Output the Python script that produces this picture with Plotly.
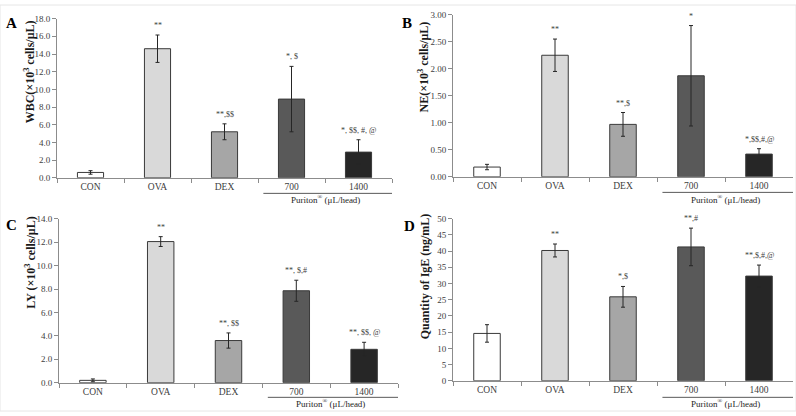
import plotly.graph_objects as go

categories = ["CON", "OVA", "DEX", "700", "1400"]
bar_colors = ["#ffffff", "#d9d9d9", "#a6a6a6", "#595959", "#262626"]

wbc_mean = [0.6, 14.6, 5.2, 8.9, 2.9]
wbc_err = [0.2, 1.55, 0.9, 3.7, 1.4]
wbc_sig = ["", "**", "**,$$", "*, $", "*, $$, #, @"]

ne_mean = [0.18, 2.25, 0.97, 1.87, 0.42]
ne_err = [0.05, 0.30, 0.22, 0.93, 0.10]
ne_sig = ["", "**", "**,$", "*", "*,$$,#,@"]

ly_mean = [0.2, 12.05, 3.6, 7.85, 2.85]
ly_err = [0.12, 0.42, 0.65, 0.9, 0.6]
ly_sig = ["", "**", "**, $$", "**, $,#", "**, $$, @"]

ige_mean = [14.6, 40.2, 25.9, 41.3, 32.3]
ige_err = [2.7, 2.0, 3.2, 5.8, 3.4]
ige_sig = ["", "**", "*,$", "**,#", "**,$,#,@"]

W, H = 796, 416
FONT = "Times New Roman, Liberation Serif, serif"

panels = [
    dict(mean=wbc_mean, err=wbc_err, sig=wbc_sig, letter="A",
         title="WBC(×10<sup>3</sup> cells/μL)", rng=[0, 18], dtick=2, fmt=".1f",
         px=(57, 392), py=(14, 177), title_xy=(29, 69), letter_xy=(4, 18), line_y=193, text_y=199),
    dict(mean=ne_mean, err=ne_err, sig=ne_sig, letter="B",
         title="NE(×10<sup>3</sup> cells/μL)", rng=[0, 3], dtick=0.5, fmt=".2f",
         px=(453, 793), py=(10, 176), title_xy=(423, 64), letter_xy=(400, 18), line_y=192, text_y=199),
    dict(mean=ly_mean, err=ly_err, sig=ly_sig, letter="C",
         title="LY (×10<sup>3</sup> cells/μL)", rng=[0, 14], dtick=2, fmt=".1f",
         px=(59, 398), py=(219, 387), title_xy=(31, 264), letter_xy=(4, 225), line_y=402, text_y=408),
    dict(mean=ige_mean, err=ige_err, sig=ige_sig, letter="D",
         title="Quantity of IgE (ng/mL)", rng=[0, 50], dtick=5, fmt="d",
         px=(453, 793), py=(219, 385), title_xy=(425, 278), letter_xy=(402, 226), line_y=402, text_y=408),
]

fig = go.Figure()
layout = dict(width=W, height=H, margin=dict(l=0, r=0, t=0, b=0),
              paper_bgcolor="white", plot_bgcolor="white", showlegend=False,
              font=dict(family=FONT, color="#404040"))
annotations = []
shapes = [dict(type="rect", xref="paper", yref="paper", x0=0, x1=1, y0=0, y1=1,
               line=dict(color="#e6e6e6", width=1))]

for i, p in enumerate(panels):
    n = "" if i == 0 else str(i + 1)
    xa, ya = "x" + n, "y" + n
    fig.add_trace(go.Bar(
        x=categories, y=p["mean"], xaxis=xa, yaxis=ya, width=0.39,
        marker=dict(color=bar_colors, line=dict(color="#3a3a3a", width=1)),
        error_y=dict(type="data", array=p["err"], visible=True, color="#262626",
                     thickness=1, width=2),
    ))
    xd = [p["px"][0] / W, p["px"][1] / W]
    yd = [1 - p["py"][1] / H, 1 - p["py"][0] / H]
    layout["xaxis" + n] = dict(domain=xd, anchor=ya, range=[-0.5, 4.5], type="category",
                               showline=True, linecolor="#8c8c8c", linewidth=1,
                               ticks="outside", tickson="boundaries", ticklen=4,
                               tickcolor="#8c8c8c", showgrid=False,
                               tickfont=dict(family=FONT, size=9.5, color="#404040"))
    layout["yaxis" + n] = dict(domain=yd, anchor=xa, range=p["rng"], dtick=p["dtick"],
                               tickformat=p["fmt"], showline=True, linecolor="#8c8c8c",
                               linewidth=1, ticks="outside", ticklen=4, tickcolor="#8c8c8c",
                               showgrid=False, zeroline=False,
                               tickfont=dict(family=FONT, size=9, color="#404040"))
    # y-axis title
    annotations.append(dict(x=p["title_xy"][0] / W, y=1 - p["title_xy"][1] / H, xref="paper",
                            yref="paper", text="<b>" + p["title"] + "</b>", textangle=-90,
                            showarrow=False, font=dict(family=FONT, size=12, color="#1a1a1a"),
                            xanchor="center", yanchor="middle"))
    # panel letter
    annotations.append(dict(x=p["letter_xy"][0] / W, y=1 - p["letter_xy"][1] / H, xref="paper",
                            yref="paper", text="<b>" + p["letter"] + "</b>", showarrow=False,
                            font=dict(family=FONT, size=15, color="#000000"),
                            xanchor="left", yanchor="middle"))
    # significance labels
    for j, (m, e, s) in enumerate(zip(p["mean"], p["err"], p["sig"])):
        if s:
            annotations.append(dict(x=j, y=m + e, xref=xa, yref=ya, text=s, showarrow=False,
                                    yanchor="bottom", yshift=3,
                                    font=dict(family=FONT, size=8, color="#404040")))
    # Puriton bracket line and label
    shapes.append(dict(type="line", xref=xa, yref="paper", x0=2.58, x1=4.5,
                       y0=1 - p["line_y"] / H, y1=1 - p["line_y"] / H,
                       line=dict(color="#595959", width=1)))
    annotations.append(dict(x=3.5, y=1 - p["text_y"] / H, xref=xa, yref="paper",
                            text="Puriton<sup>®</sup> (μL/head)", showarrow=False,
                            xanchor="center", yanchor="middle",
                            font=dict(family=FONT, size=9, color="#262626")))

layout["annotations"] = annotations
layout["shapes"] = shapes
fig.update_layout(**layout)
fig.write_html("out.html")
